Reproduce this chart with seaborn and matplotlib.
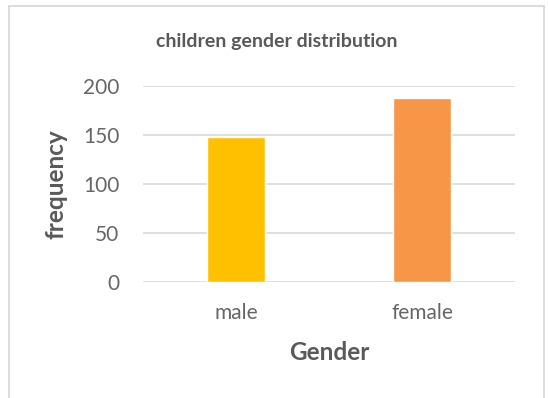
import matplotlib
matplotlib.use("Agg")
import matplotlib.pyplot as plt
import seaborn as sns
import pandas as pd
from matplotlib.patches import Rectangle

# Chart data
genders = ["male", "female"]
counts = [148, 188]
bar_colors = ["#FFC000", "#F79646"]
y_ticks = [0, 50, 100, 150, 200]

TEXT_GRAY = "#595959"
GRID_GRAY = "#D9D9D9"

sns.set_style("white")
plt.rcParams["font.family"] = ["Lato", "DejaVu Sans"]

df = pd.DataFrame({"Gender": genders, "frequency": counts})

fig = plt.figure(figsize=(5.48, 3.98), dpi=100)
ax = fig.add_axes([143 / 548, 1 - 282 / 398, (515 - 143) / 548, (282 - 86) / 398])

sns.barplot(data=df, x="Gender", y="frequency", hue="Gender", saturation=1,
            palette=bar_colors, width=0.317, legend=False, ax=ax, zorder=3)

ax.set_ylim(0, 200)
ax.set_xlim(-0.5, 1.5)
ax.set_yticks(y_ticks)
ax.yaxis.grid(True, color=GRID_GRAY, linewidth=1.2, zorder=0)
ax.set_axisbelow(True)
for side in ["top", "right", "left", "bottom"]:
    ax.spines[side].set_visible(False)
ax.tick_params(axis="both", length=0, labelsize=15, labelcolor="#666666")
ax.tick_params(axis="y", pad=17)
ax.tick_params(axis="x", pad=15)

ax.set_xlabel("Gender", fontsize=17.5, fontweight="bold", color=TEXT_GRAY)
ax.set_ylabel("frequency", fontsize=17.5, fontweight="bold", color=TEXT_GRAY)
ax.yaxis.set_label_coords(-(143 - 67) / 372, 0.5)
ax.xaxis.set_label_coords(0.5, -(341 - 282) / 196)

fig.text(277 / 548, 1 - 42 / 398, "children gender distribution", ha="center", va="center",
         fontsize=14, fontweight="bold", color=TEXT_GRAY)

# light chart-area border like the spreadsheet export
fig.patches.append(Rectangle((9 / 548, -0.05), (544 - 9) / 548, 1 - 6 / 398 + 0.05,
                             transform=fig.transFigure, fill=False,
                             edgecolor="#D9D9D9", linewidth=1.3))

fig.savefig("out.png", dpi=100)
plt.close(fig)
